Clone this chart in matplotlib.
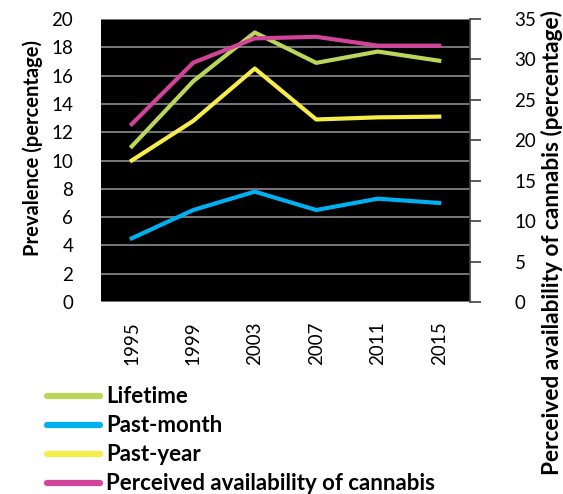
import matplotlib.pyplot as plt
import numpy as np

plt.rcParams['font.family'] = ['Lato', 'DejaVu Sans']

years = ['1995', '1999', '2003', '2007', '2011', '2015']
lifetime = [11.0, 15.6, 19.05, 16.9, 17.7, 17.05]
past_month = [4.5, 6.5, 7.8, 6.5, 7.3, 7.0]
past_year = [10.0, 12.8, 16.5, 12.9, 13.05, 13.1]
perceived = [22.0, 29.6, 32.6, 32.8, 31.7, 31.7]

c_life = '#bbd65b'
c_month = '#00b0f0'
c_year = '#f6ec4a'
c_perc = '#d2449a'

fig = plt.figure(figsize=(5.63, 4.94), dpi=100)
ax = fig.add_axes([101 / 563, 192 / 494, 369 / 563, 283 / 494])
ax2 = ax.twinx()

x = np.arange(len(years))
l1, = ax.plot(x, lifetime, color=c_life, lw=3, label='Lifetime')
l2, = ax.plot(x, past_month, color=c_month, lw=3, label='Past-month')
l3, = ax.plot(x, past_year, color=c_year, lw=3, label='Past-year')
l4, = ax2.plot(x, perceived, color=c_perc, lw=3, label='Perceived availability of cannabis')

ax.set_facecolor('black')
ax.set_xlim(-0.5, 5.5)
ax.set_ylim(0, 20)
ax.set_yticks(range(0, 21, 2))
ax.yaxis.grid(True, color='#8c8c8c', lw=1.2)
ax.set_axisbelow(True)
ax.set_xticks(x)
ax.set_xticklabels(years, rotation=90, fontsize=13.5)
ax.tick_params(axis='y', length=0, labelsize=13.5, pad=20)
ax.tick_params(axis='x', length=0, pad=14)
for s in ax.spines.values():
    s.set_visible(False)

ax2.set_ylim(0, 35)
ax2.set_yticks(range(0, 36, 5))
ax2.tick_params(axis='y', labelsize=13.5, length=8, width=1.2, color='#404040', pad=24)
for s in ['top', 'left', 'bottom']:
    ax2.spines[s].set_visible(False)
ax2.spines['right'].set_color('#404040')
ax2.spines['right'].set_linewidth(1.2)

fig.text(33 / 563, 1 - 148 / 494, 'Prevalence (percentage)', rotation=90,
         ha='center', va='center', fontsize=14.5, fontweight='bold')
fig.text(552 / 563, 1 - 243 / 494, 'Perceived availability of cannabis (percentage)',
         rotation=90, ha='center', va='center', fontsize=16.3, fontweight='bold')

leg = fig.legend(handles=[l1, l2, l3, l4], loc='upper left',
                 bbox_to_anchor=(0.083, 0.218), frameon=False,
                 handlelength=2.4, handletextpad=0.28, labelspacing=0.36,
                 prop={'size': 16, 'weight': 'bold'}, borderaxespad=0,
                 borderpad=0)
for h in leg.legend_handles:
    h.set_linewidth(4.5)
    h.set_solid_capstyle('round')

plt.savefig('out.png', dpi=100)
